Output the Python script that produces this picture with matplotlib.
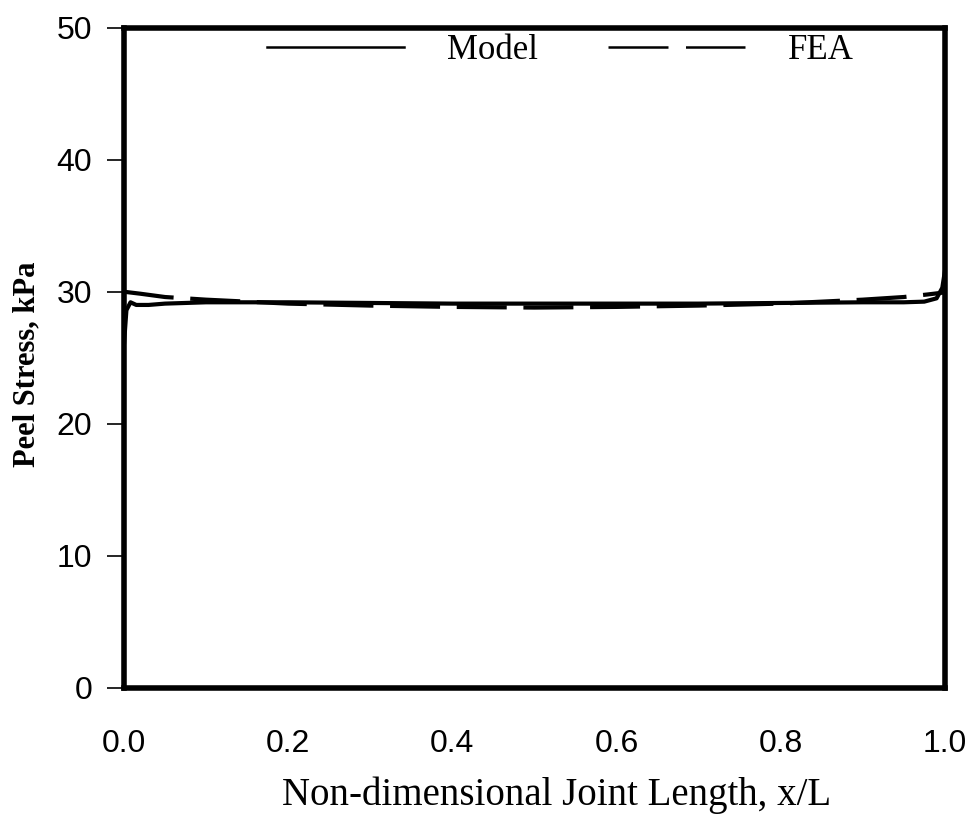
import numpy as np
import matplotlib.pyplot as plt

# datos
x_model = [0.0, 0.003, 0.008, 0.015, 0.03, 0.05, 0.1, 0.2, 0.3, 0.4, 0.5,
           0.6, 0.7, 0.8, 0.9, 0.95, 0.975, 0.99, 0.997, 1.0]
peel_model = [26.0, 28.6, 29.2, 29.0, 29.0, 29.1, 29.2, 29.2, 29.15, 29.1, 29.1,
              29.1, 29.1, 29.15, 29.2, 29.2, 29.25, 29.5, 30.3, 31.5]

x_fea = [0.0, 0.02, 0.05, 0.1, 0.2, 0.3, 0.4, 0.5, 0.6, 0.7, 0.8, 0.9,
         0.95, 0.98, 1.0]
peel_fea = [30.0, 29.85, 29.6, 29.4, 29.1, 28.95, 28.85, 28.8, 28.85, 28.95,
            29.1, 29.4, 29.6, 29.8, 29.95]

xticks = [0.0, 0.2, 0.4, 0.6, 0.8, 1.0]
yticks = [0, 10, 20, 30, 40, 50]

fig = plt.figure(figsize=(9.76, 8.14), dpi=100)
ax = fig.add_axes([0.127, 0.155, 0.841, 0.811])

ax.plot(x_model, peel_model, color='black', lw=3, label='Model')
ax.plot(x_fea, peel_fea, color='black', lw=3, dashes=(12, 4), label='FEA')

ax.set_xlim(0, 1)
ax.set_ylim(0, 50)
ax.set_xticks(xticks)
ax.set_yticks(yticks)
ax.set_xticklabels(['%.1f' % t for t in xticks], family='Liberation Sans', fontsize=23)
ax.set_yticklabels([str(t) for t in yticks], family='Liberation Sans', fontsize=23)
ax.tick_params(axis='x', length=0, pad=30)
ax.tick_params(axis='y', direction='out', length=12, width=1.2, pad=11)

for s in ax.spines.values():
    s.set_linewidth(4)

ax.set_xlabel('Non-dimensional Joint Length, x/L', family='Liberation Serif',
              fontsize=28)
ax.xaxis.set_label_coords(0.527, -0.135)
ax.set_ylabel('Peel Stress, kPa', family='Liberation Serif', fontsize=22,
              fontweight='bold')
ax.yaxis.set_label_coords(-0.1, 0.49)

leg = ax.legend(loc='center', bbox_to_anchor=(0.532, 0.965), ncol=2, frameon=False,
                handlelength=3.95, handletextpad=1.25, columnspacing=2.0,
                prop={'family': 'Liberation Serif', 'size': 25})
lines = leg.get_lines()
for l in lines:
    l.set_linewidth(1.8)
lines[1].set_dashes((24, 7))

plt.savefig('out.png', dpi=100)
